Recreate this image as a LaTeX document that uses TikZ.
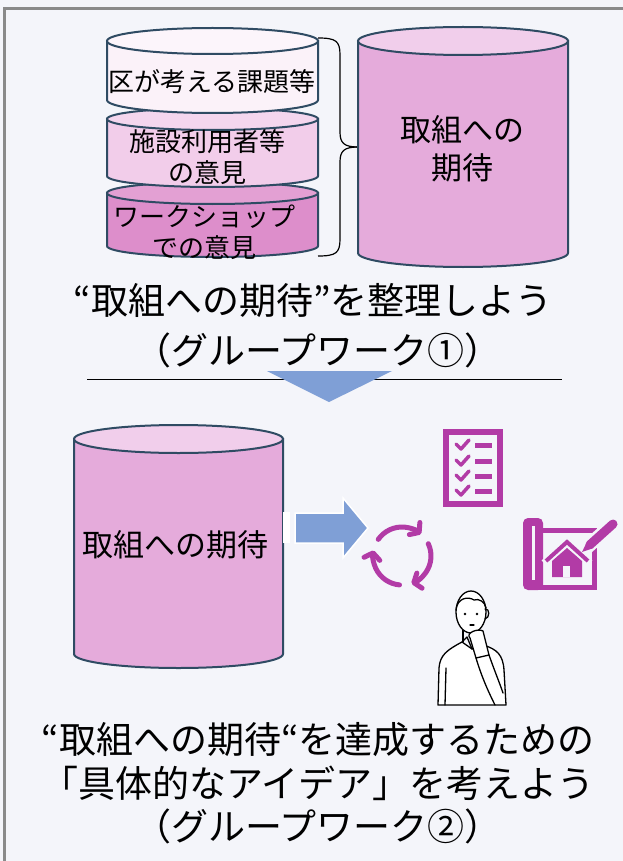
\documentclass[tikz,border=0pt]{standalone}
\usepackage{fontspec}
\newfontfamily\jp{Noto Sans CJK JP}
\usetikzlibrary{arrows.meta}
\definecolor{pagebg}{HTML}{F4F5FA}
\definecolor{frame}{HTML}{8A8A8A}
\definecolor{rim}{HTML}{2F4B63}
\definecolor{pinkA}{HTML}{FBF2F9}
\definecolor{pinkAtop}{HTML}{FCF5FB}
\definecolor{pinkB}{HTML}{F2CDEA}
\definecolor{pinkBtop}{HTML}{F4D6EE}
\definecolor{pinkC}{HTML}{DD8ECB}
\definecolor{pinkCtop}{HTML}{E3A0D3}
\definecolor{pinkD}{HTML}{E5ABDB}
\definecolor{pinkDtop}{HTML}{F1CEEB}
\definecolor{arrowblue}{HTML}{7F9FD6}
\definecolor{icon}{HTML}{B23BA6}

% drum: left, right, top, bottom, lid radius, body colour, lid colour
\newcommand{\drum}[7]{%
  \filldraw[rimline, fill=#6] (#1,#3-#5) -- (#1,#4+#5)
    arc[start angle=180, end angle=360, x radius={(#2-#1)/2}, y radius=#5]
    -- (#2,#3-#5) -- cycle;
  \filldraw[rimline, fill=#7] ({(#1+#2)/2},#3-#5) ellipse[x radius={(#2-#1)/2}, y radius=#5];
}

\begin{document}
\begin{tikzpicture}[x=1pt, y=1pt,
  rimline/.style={draw=rim, line width=2pt},
  drumtext/.style={font=\jp\fontsize{26}{31}\selectfont, align=center, inner sep=0pt},
  bigtext/.style={font=\jp\fontsize{31}{38}\selectfont, align=center, inner sep=0pt},
  headline/.style={font=\jp\fontsize{37}{45}\selectfont, inner sep=0pt},
  ink/.style={draw=black, line width=1.3pt, line cap=round, line join=round}]
\useasboundingbox (0,0) rectangle (623,-861);
\clip (0,0) rectangle (623,-861);
\fill[pagebg] (0,0) rectangle (623,-861);
\draw[frame, line width=2.7pt] (4.7,-8.7) rectangle (640,-880);

% three sources, stacked
\drum{107}{318}{-182}{-257}{11}{pinkC}{pinkCtop}
\drum{107}{318}{-108}{-187}{11}{pinkB}{pinkBtop}
\drum{107}{318}{-28}{-113}{13}{pinkA}{pinkAtop}
\node[drumtext] (issues) at (212,-82) {区が考える課題等};
\node[drumtext] (users) at (207,-157) {施設利用者等\\の意見};
\node[drumtext] (workshop) at (204,-232) {ワークショップ\\での意見};

% brace
\draw[line width=1.2pt] (318,-38) .. controls (336,-38) and (340,-41) .. (340,-55) -- (340,-132)
  .. controls (340,-143) and (344,-147) .. (358,-147);
\draw[line width=1.2pt] (318,-256) .. controls (336,-256) and (340,-253) .. (340,-239) -- (340,-162)
  .. controls (340,-151) and (344,-147) .. (358,-147);

\drum{358}{568}{-27}{-267}{14}{pinkD}{pinkDtop}
\node[bigtext] (hopes) at (462,-149) {取組への\\期待};

\node[headline] (sortout) at (313,-301) {“取組への期待”を整理しよう};
\node[headline] (gw1) at (318,-350) {（グループワーク①）};

\draw[line width=1pt] (87,-379) -- (562,-379);
\fill[arrowblue] (267,-371) -- (392,-371) -- (329,-402) -- cycle;

% second step
\drum{74}{283}{-425}{-668}{14}{pinkD}{pinkDtop}
\node[bigtext] (hopes2) at (175,-545) {取組への期待};

\fill[white] (283,-512) rectangle (290,-543);
\filldraw[draw=white, line width=1.5pt, fill=arrowblue] (295,-513) -- (343,-513) -- (343,-498)
  -- (368,-528) -- (343,-558) -- (343,-543) -- (295,-543) -- cycle;

% checklist
\draw[icon, line width=6pt] (446,-432) rectangle (500,-504);
\foreach \y in {445,461,476,491} {
  \draw[icon, line width=3.5pt, line cap=round, line join=round] (456,-\y+1) -- (461,-\y-4) -- (469,-\y+5);
  \draw[icon, line width=5pt] (475,-\y) -- (492,-\y);
}

% cycle
\coordinate (loop) at (402,-556);
\foreach \a in {145,25,-95}
  \draw[icon, line width=5pt, line cap=round, -{Straight Barb[length=6pt,width=16pt,round]}]
    ([shift={(\a:29)}]loop) arc[start angle=\a, end angle=\a-96, radius=29];

% plan with house and pencil
\fill[icon, rounded corners=5pt] (523,-518) rectangle (543,-590);
\draw[icon, line width=5pt] (540,-530.5) -- (594.5,-530.5) -- (594.5,-587.5) -- (530,-587.5);
\draw[pagebg, line width=2.5pt] (533.5,-526) -- (533.5,-580);
\fill[icon] (552,-561) -- (567,-548) -- (582,-561) -- (582,-577) -- (552,-577) -- cycle;
\fill[pagebg] (563,-566) rectangle (570,-577);
\draw[pagebg, line width=7pt] (544,-563) -- (567,-542) -- (590,-563);
\draw[icon, line width=4pt] (546,-561) -- (567,-542) -- (588,-561);
\draw[pagebg, line width=14pt] (586,-548) -- (614,-523);
\fill[icon] (582,-552) -- (587.3,-541.3) -- (593.3,-548.1) -- cycle;
\draw[icon, line width=9pt, line cap=round] (590,-544.7) -- (613,-524);

% thinking man
\filldraw[ink, fill=white] (438,-705) -- (439,-668) .. controls (440,-655) and (447,-650) .. (462,-642)
  -- (472,-649) -- (483,-645) .. controls (497,-649) and (503,-655) .. (504,-670) -- (506,-705) -- cycle;
\draw[ink] (462,-642) -- (467,-637) -- (472,-649);
\draw[ink] (446,-668) -- (445,-705);
\draw[ink] (463,-628) -- (463,-642);
\filldraw[ink, fill=white] (471,-612) ellipse[x radius=15, y radius=21];
\draw[ink] (456,-610) .. controls (457,-598) and (468,-596) .. (474,-600)
  .. controls (479,-598) and (485,-602) .. (486,-608);
\draw[ink] (485,-609) .. controls (490,-608) and (490,-618) .. (485,-619);
\fill (465,-614) circle (1.4);
\fill (477,-614) circle (1.4);
\draw[ink] (470,-625) -- (474,-625);
\filldraw[ink, fill=white] (476,-658) -- (470,-638) .. controls (465,-633) and (478,-628) .. (483,-631)
  -- (489,-655) -- cycle;
\draw[ink] (476,-658) .. controls (482,-678) and (489,-693) .. (495,-705);
\draw[ink] (489,-655) .. controls (495,-672) and (500,-684) .. (503,-693);

\node[headline] (ideas) at (318,-740) {“取組への期待“を達成するための};
\node[headline] (ideas2) at (318,-783) {「具体的なアイデア」を考えよう};
\node[headline] (gw2) at (318,-826) {（グループワーク②）};
\end{tikzpicture}
\end{document}
